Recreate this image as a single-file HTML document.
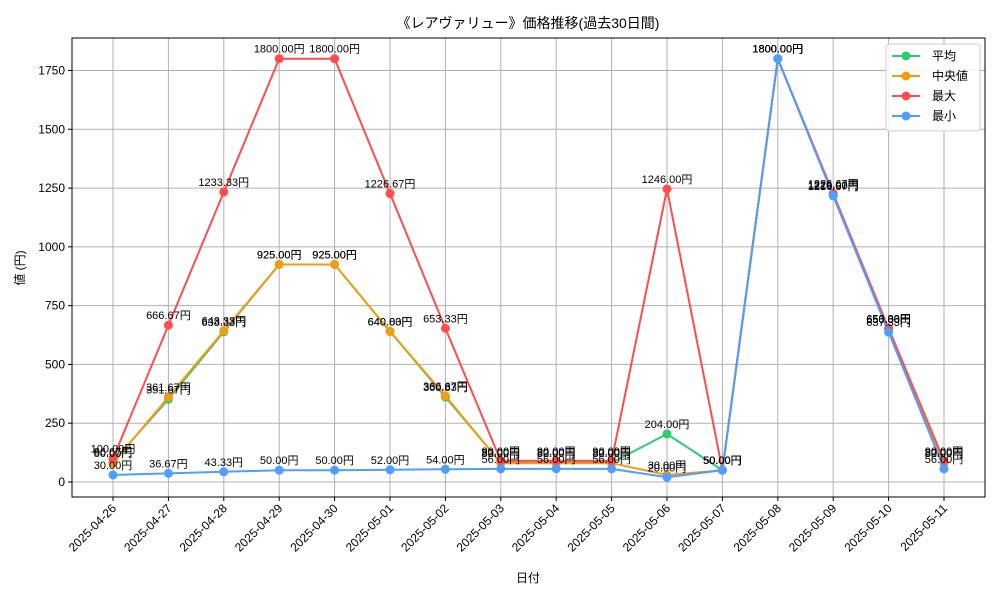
<!DOCTYPE html>
<html><head><meta charset="utf-8"><style>
body{margin:0;background:#fff;font-family:"Liberation Sans","Noto Sans CJK JP",sans-serif;}
</style></head><body>
<svg id="chart" width="1000" height="600" xmlns="http://www.w3.org/2000/svg" font-family="Liberation Sans, Noto Sans CJK JP, sans-serif">
<rect width="1000" height="600" fill="#fff"/>
<text x="528" y="28" text-anchor="middle" font-size="14">《レアヴァリュー》価格推移(過去30日間)</text>
<text x="528" y="582" text-anchor="middle" font-size="12">日付</text>
<text transform="translate(24,268) rotate(-90)" text-anchor="middle" font-size="12">値 (円)</text>
<g id="grid"></g><g id="axes"></g><g id="series"></g><g id="labels"></g><g id="legend"></g>
</svg>
<script>
const dates=["2025-04-26","2025-04-27","2025-04-28","2025-04-29","2025-04-30","2025-05-01","2025-05-02","2025-05-03","2025-05-04","2025-05-05","2025-05-06","2025-05-07","2025-05-08","2025-05-09","2025-05-10","2025-05-11"];
const avgVals=[86.67,351.67,638.33,925,925,640.83,360.83,82,82,82,204,50,1800,1220,650,82];
const medianVals=[80,361.67,643.33,925,925,640,366.67,80,80,80,30,50,1800,1220,650,80];
const maxVals=[100,666.67,1233.33,1800,1800,1226.67,653.33,90,90,90,1246,50,1800,1226.67,653.33,90];
const minVals=[30,36.67,43.33,50,50,52,54,56,56,56,20,50,1800,1216.67,637.33,56];
const yTicks=[0,250,500,750,1000,1250,1500,1750];
const seriesNames=["平均","中央値","最大","最小"];
const NS="http://www.w3.org/2000/svg";
const L=72,R=985,T=38,B=497;
const x=i=>113+i*(944-113)/(dates.length-1);
const y=v=>482-v*(482-70.5)/1750;
function mk(tag,attrs,parent){const e=document.createElementNS(NS,tag);for(const k in attrs)e.setAttribute(k,attrs[k]);parent.appendChild(e);return e;}
const grid=document.getElementById('grid'),axes=document.getElementById('axes');
dates.forEach((d,i)=>{
  const g=mk('line',{x1:x(i),x2:x(i),y1:T,y2:B,stroke:'#b0b0b0','stroke-width':1},grid);
  
  
  mk('line',{x1:x(i),x2:x(i),y1:B,y2:B+4,stroke:'#000'},axes);
  const t=mk('text',{x:0,y:0,'font-size':12,'text-anchor':'end',transform:`translate(${x(i)+4},${B+12}) rotate(-45)`},axes);
  t.textContent=d;
  
  
});
yTicks.forEach(v=>{
  const g=mk('line',{x1:L,x2:R,y1:y(v),y2:y(v),stroke:'#b0b0b0','stroke-width':1},grid);
  
  
  mk('line',{x1:L-4,x2:L,y1:y(v),y2:y(v),stroke:'#000'},axes);
  const t=mk('text',{x:L-7,y:y(v)+4,'font-size':12,'text-anchor':'end'},axes);
  t.textContent=v;
  
  
});
const fr=mk('rect',{x:L,y:T,width:R-L,height:B-T,fill:'none',stroke:'#000','stroke-width':1},axes);


const all=[avgVals,medianVals,maxVals,minVals];
const colors=["#2ecc71","#f39c12","#ff4d4d","#4d9fff"];
const keys=["avg","median","max","min"];
const sg=document.getElementById('series'),lg=document.getElementById('labels');
all.forEach((vals,s)=>{
  const p=mk('polyline',{points:vals.map((v,i)=>x(i)+','+y(v)).join(' '),fill:'none',stroke:colors[s],'stroke-width':2},sg);
  
  
  vals.forEach((v,i)=>{
    const c=mk('circle',{cx:x(i),cy:y(v),r:4.5,fill:colors[s]},sg);
    
    
    const t=mk('text',{x:x(i),y:y(v)-6,'font-size':11,'text-anchor':'middle'},lg);
    t.textContent=v.toFixed(2)+'円';
    
    
  });
});
const leg=document.getElementById('legend');
const box=mk('rect',{x:886,y:44,width:94,height:87,fill:'#fff','fill-opacity':0.85,stroke:'#ccc',rx:3},leg);


seriesNames.forEach((n,s)=>{
  const yy=56+s*20;
  const ln=mk('line',{x1:892,x2:920,y1:yy,y2:yy,stroke:colors[s],'stroke-width':2},leg);
  
  
  mk('circle',{cx:906,cy:yy,r:4.5,fill:colors[s]},leg);
  const t=mk('text',{x:932,y:yy+4,'font-size':12},leg);
  t.textContent=n;
  
  
});
</script>
</body></html>
